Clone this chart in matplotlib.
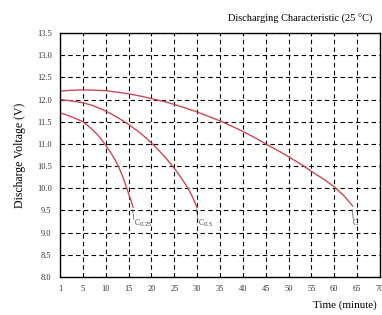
import numpy as np
import matplotlib.pyplot as plt

plt.rcParams['font.family'] = ['Liberation Serif', 'DejaVu Serif']

# x ticks are evenly spaced even though 1 -> 5 is a smaller step
tick_times = [1, 5, 10, 15, 20, 25, 30, 35, 40, 45, 50, 55, 60, 65, 70]
yticks = [8.0, 8.5, 9.0, 9.5, 10.0, 10.5, 11.0, 11.5, 12.0, 12.5, 13.0, 13.5]

t_025 = [1, 2, 3, 4, 5, 6, 7, 8, 9, 10, 11, 12, 12.5, 13, 13.5, 14, 14.5, 15, 15.5, 16]
v_025 = [11.70, 11.66, 11.61, 11.56, 11.50, 11.42, 11.33, 11.23, 11.11, 10.97,
         10.82, 10.65, 10.55, 10.44, 10.32, 10.18, 10.03, 9.88, 9.73, 9.57]

t_05 = [1, 3, 5, 7, 9, 11, 13, 15, 17, 19, 21, 23, 25, 26, 27, 28, 29, 30]
v_05 = [12.00, 11.97, 11.93, 11.87, 11.79, 11.69, 11.57, 11.44, 11.29, 11.12,
        10.92, 10.70, 10.45, 10.31, 10.16, 10.00, 9.80, 9.56]

t_1 = [1, 3, 5, 8, 10, 13, 15, 18, 20, 23, 25, 28, 30, 33, 35, 38, 40, 43, 45,
       48, 50, 53, 55, 58, 60, 62, 64]
v_1 = [12.19, 12.21, 12.22, 12.21, 12.20, 12.16, 12.13, 12.07, 12.02, 11.95,
       11.89, 11.79, 11.72, 11.60, 11.52, 11.38, 11.28, 11.12, 11.00, 10.83,
       10.71, 10.52, 10.38, 10.18, 10.03, 9.84, 9.60]

labels = [("0.25", 16, 9.52), ("0.5", 30, 9.52), ("", 64, 9.52)]


def to_pos(t):
    return np.interp(t, tick_times, np.arange(len(tick_times)))


fig = plt.figure(figsize=(3.82, 3.15), dpi=100)
ax = fig.add_axes([0.157, 0.121, 0.838, 0.774])

red = '#cc4a55'
for t, v in [(t_025, v_025), (t_05, v_05), (t_1, v_1)]:
    ax.plot(to_pos(t), v, color=red, lw=1.0)

for sub, t, v in labels:
    x = to_pos(t)
    ax.plot([x - 0.03, x + 0.03], [v, v - 0.22], color='#555555', lw=0.5)
    txt = 'C' if sub == '' else r'C$_{' + sub + '}$'
    ax.text(x + 0.02, v - 0.3, txt, fontsize=5.5, color='#444444', ha='left', va='center')

ax.set_xlim(0, len(tick_times) - 1)
ax.set_ylim(8.0, 13.5)
ax.set_xticks(np.arange(len(tick_times)))
ax.set_xticklabels([str(t) for t in tick_times])
ax.set_yticks(yticks)
ax.set_yticklabels([f"{y:.1f}" for y in yticks])
ax.tick_params(length=0, labelsize=6, pad=6, labelcolor='#333333')
ax.grid(True, color='black', linestyle=(0, (4, 3)), lw=0.8)
for s in ax.spines.values():
    s.set_color('black')
    s.set_linewidth(1.0)

ax.set_ylabel('Discharge Voltage (V)', fontsize=8.5, labelpad=8)
fig.text(0.975, 0.94, 'Discharging Characteristic (25 °C)', fontsize=7.5, ha='right', va='center')
fig.text(0.985, 0.03, 'Time (minute)', fontsize=8, ha='right', va='center')

fig.savefig('out.png', dpi=100)
